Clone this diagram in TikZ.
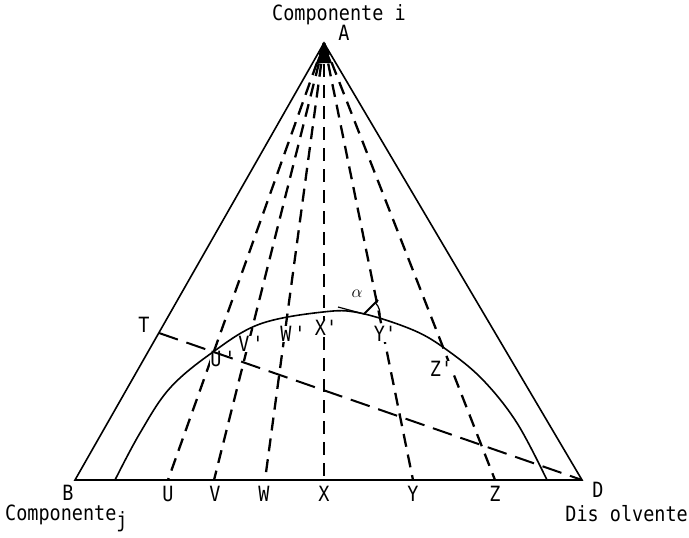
\documentclass[tikz,border=0pt]{standalone}
\usepackage{fontspec}
\setmonofont{DejaVu Sans Mono}[FakeStretch=0.88]
\begin{document}
\begin{tikzpicture}[x=1pt, y=-1pt, every node/.style={
      font=\ttfamily\fontsize{21}{21}\selectfont, inner sep=1pt},
    side/.style={line width=1.6pt},
    ray/.style={line width=2.3pt, dash pattern=on 13pt off 8pt},
    tieline/.style={line width=2pt, dash pattern=on 20pt off 9pt},
    primelbl/.style={fill=white, inner sep=0.5pt}]
    \useasboundingbox (0,0) rectangle (689,538);
    % vertices of the triangle
    \coordinate (A) at (324,43);
    \coordinate (B) at (75,480);
    \coordinate (D) at (582,480);
    \coordinate (T) at (159,333);
    % feet of the rays on B--D
    \coordinate (fu) at (168,480);
    \coordinate (fv) at (214,480);
    \coordinate (fw) at (265,480);
    \coordinate (fx) at (324,480);
    \coordinate (fy) at (413,480);
    \coordinate (fz) at (495,480);
    % rays from A
    \draw[ray] (A) -- (fu);
    \draw[ray] (A) -- (fv);
    \draw[ray] (A) -- (fw);
    \draw[ray] (A) -- (fx);
    \draw[ray] (A) -- (fy);
    \draw[ray] (A) -- (fz);
    \fill (A) -- ++(-8,20) -- ++(16,0) -- cycle;
    % labels on the curve
    \node[primelbl] (Up) at (223,359) {U\kern3pt'};
    \node[primelbl] (Vp) at (251,344) {V\kern3pt'};
    \node[primelbl] (Wp) at (293,334) {W\kern3pt'};
    \node[primelbl] (Xp) at (326,328) {X'};
    \node[primelbl] (Yp) at (385,334) {Y'};
    \node[primelbl] (Zp) at (441,369) {Z'};
    % tie line
    \draw[tieline] (T) -- (D);
    % binodal curve
    \draw[side] plot[smooth, tension=0.6] coordinates {(115,480) (140,433)
      (170,388) (213,352) (260,324) (323,312) (360,313) (413,330)
      (447,350) (483,380) (517,423) (547,480)};
    \draw[side] (B) -- (A) -- (D) -- cycle;
    % angle alpha
    \coordinate (ta) at (338,307);
    \coordinate (tp) at (364,314);
    \coordinate (tb) at (378,300);
    \draw[line width=1.2pt] (ta) -- (tp);
    \draw[line width=1.8pt] (tp) -- (tb);
    \draw[line width=1.2pt] (tp) ++(-45:16) arc[start angle=-45, end angle=15, radius=16];
    \node[font=\fontsize{19}{19}\selectfont] (al) at (357,294) {$\alpha$};
    % texts
    \node[anchor=west] (ci) at (271,15) {Componente i};
    \node (la) at (344,33) {A};
    \node (lb) at (68,493) {B};
    \node (ld) at (598,490) {D};
    \node (lt) at (144,325) {T};
    \node[anchor=west] (cj) at (4,518) {Componente\raisebox{-7pt}{j}};
    \node[anchor=east] (dis) at (689,514) {Dis olvente};
    \node (U) at (168,494) {U};
    \node (V) at (215,494) {V};
    \node (W) at (264,494) {W};
    \node (X) at (324,494) {X};
    \node (Y) at (413,494) {Y};
    \node (Z) at (495,494) {Z};
  \end{tikzpicture}
\end{document}
